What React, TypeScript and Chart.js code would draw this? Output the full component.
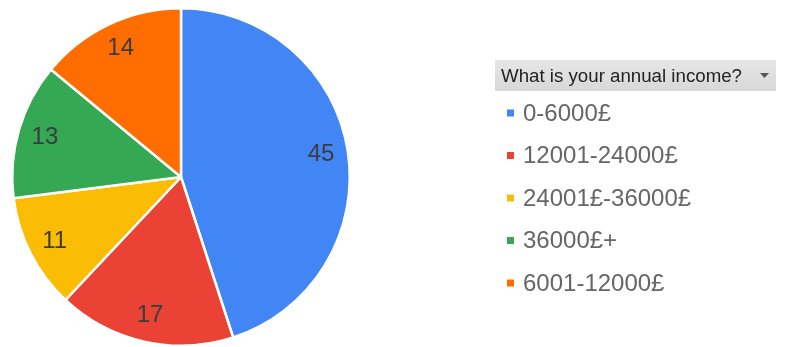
import React, { useEffect, useRef } from "react";
import { Chart, registerables } from "chart.js";

Chart.register(...registerables);

const legendTitle = "What is your annual income?";
const categories = ["0-6000£", "12001-24000£", "24001£-36000£", "36000£+", "6001-12000£"];
const counts = [45, 17, 11, 13, 14];
const colors = ["#4285F4", "#EA4335", "#FBBC04", "#34A853", "#FF6D01"];

const sliceLabels = {
  id: "sliceLabels",
  afterDatasetsDraw(chart: any) {
    const ctx = chart.ctx;
    const meta = chart.getDatasetMeta(0);
    ctx.save();
    ctx.font = "24px 'Liberation Sans', Arial, sans-serif";
    ctx.fillStyle = "#3c3c3c";
    ctx.textAlign = "center";
    ctx.textBaseline = "middle";
    meta.data.forEach((arc: any, i: number) => {
      const p = arc.getProps(["x", "y", "startAngle", "endAngle", "outerRadius"], true);
      const mid = (p.startAngle + p.endAngle) / 2;
      const r = p.outerRadius * 0.84;
      ctx.fillText(String(counts[i]), p.x + Math.cos(mid) * r, p.y + Math.sin(mid) * r);
    });
    ctx.restore();
  },
};

const sideLegend = {
  id: "sideLegend",
  afterDraw(chart: any) {
    const ctx = chart.ctx;
    ctx.save();
    const bx = 495, by = 60, bw = 281, bh = 31;
    const g = ctx.createLinearGradient(0, by, 0, by + bh);
    g.addColorStop(0, "#e6e6e6");
    g.addColorStop(1, "#d8d8d8");
    ctx.fillStyle = g;
    ctx.fillRect(bx, by, bw, bh);
    ctx.font = "18.7px 'Liberation Sans', Arial, sans-serif";
    ctx.fillStyle = "#222222";
    ctx.textAlign = "left";
    ctx.textBaseline = "middle";
    ctx.fillText(legendTitle, 501, by + bh / 2 + 1);
    ctx.fillStyle = "#555555";
    ctx.beginPath();
    ctx.moveTo(760, 73);
    ctx.lineTo(769, 73);
    ctx.lineTo(764.5, 78);
    ctx.closePath();
    ctx.fill();

    ctx.font = "24px 'Liberation Sans', Arial, sans-serif";
    categories.forEach((c, i) => {
      const y = 113 + i * 42.5;
      ctx.fillStyle = colors[i];
      ctx.fillRect(507, y - 3.5, 7, 7);
      ctx.fillStyle = "#666666";
      ctx.fillText(c, 523, y + 1);
    });
    ctx.restore();
  },
};

export default function App() {
  const ref = useRef<HTMLCanvasElement>(null);
  useEffect(() => {
    if (!ref.current) return;
    const chart = new Chart(ref.current, {
      type: "pie",
      data: {
        labels: categories,
        datasets: [
          {
            data: counts,
            backgroundColor: colors,
            borderColor: "#ffffff",
            borderWidth: 2.5,
          },
        ],
      },
      options: {
        animation: false,
        responsive: false,
        rotation: 0,
        layout: { padding: { left: 10, right: 451, top: 7, bottom: 0 } },
        plugins: {
          legend: { display: false },
          tooltip: { enabled: false },
        },
      },
      plugins: [sliceLabels, sideLegend],
    });
    return () => chart.destroy();
  }, []);
  return (
    <div style={{ position: "fixed", left: 0, top: 0, width: 803, height: 347, background: "#fff" }}>
      <canvas ref={ref} width={803} height={347} style={{ display: "block" }} />
    </div>
  );
}
